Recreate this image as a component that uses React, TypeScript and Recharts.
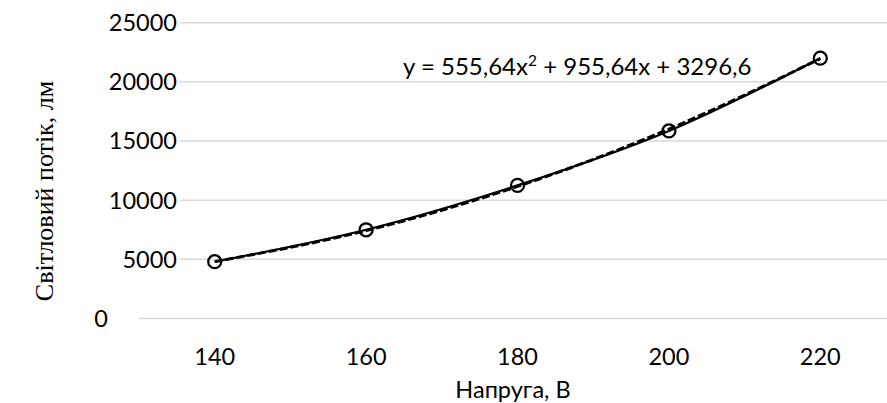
import React from "react";
import { LineChart, Line, XAxis, YAxis, CartesianGrid } from "recharts";

const voltages = ["140", "160", "180", "200", "220"];
const flux = [4800, 7500, 11250, 15850, 22000];
const trend = [4808, 7430, 11164, 16009, 21966];
const yTicks = [0, 5000, 10000, 15000, 20000, 25000];

const data = voltages.map((v, i) => ({ v, flux: flux[i], trend: trend[i] }));

const FONT = "Lato, 'Open Sans', sans-serif";

function YTick({ x, y, payload }: any) {
  const zero = payload.value === 0;
  return (
    <g>
      {!zero && <rect x={x} y={y - 12} width={41} height={24} fill="#fff" />}
      <text
        x={zero ? x - 31 : x + 38}
        y={y}
        dy="0.36em"
        textAnchor="end"
        fontFamily={FONT}
        fontSize={23.5}
        fill="#000"
      >
        {payload.value}
      </text>
    </g>
  );
}

function XTick({ x, y, payload }: any) {
  return (
    <text x={x} y={y + 46} textAnchor="middle" fontFamily={FONT} fontSize={23.5} fill="#000">
      {payload.value}
    </text>
  );
}

export default function App() {
  return (
    <div style={{ position: "absolute", left: 0, top: 0, width: 887, height: 403, overflow: "hidden", background: "#fff" }}>
      <LineChart width={896} height={403} data={data} margin={{ top: 22.7, right: 0, bottom: 0, left: 0 }}>
        <CartesianGrid vertical={false} stroke="#d9d9d9" strokeWidth={1.5} />
        <XAxis
          dataKey="v"
          axisLine={false}
          tickLine={false}
          tickSize={0}
          tickMargin={0}
          height={84.5}
          padding={{ left: 75.7, right: 75.7 }}
          tick={<XTick />}
          interval={0}
        />
        <YAxis
          domain={[0, 25000]}
          ticks={yTicks}
          axisLine={false}
          tickLine={false}
          tickSize={0}
          tickMargin={0}
          width={139}
          tick={<YTick />}
        />
        <Line
          dataKey="trend"
          type="monotone"
          stroke="#000"
          strokeWidth={3}
          strokeDasharray="8 3"
          dot={false}
          isAnimationActive={false}
        />
        <Line
          dataKey="flux"
          type="monotone"
          stroke="#000"
          strokeWidth={2.25}
          dot={{ r: 6.5, stroke: "#000", strokeWidth: 2.25, fill: "none" }}
          activeDot={false}
          isAnimationActive={false}
        />
      </LineChart>
      <svg width={887} height={403} style={{ position: "absolute", left: 0, top: 0, pointerEvents: "none" }}>
        <text x={403} y={75} fontFamily={FONT} fontSize={24} fill="#000">
          y = 555,64x
          <tspan dy={-9} fontSize={15.5}>2</tspan>
          <tspan dy={9}> + 955,64x + 3296,6</tspan>
        </text>
        <text x={513} y={398} textAnchor="middle" fontFamily={FONT} fontSize={23.5} fill="#000">
          Напруга, В
        </text>
        <text
          transform="rotate(-90)"
          x={-191}
          y={53}
          textAnchor="middle"
          fontFamily="'Liberation Serif', 'DejaVu Serif', serif"
          fontSize={26}
          fill="#000"
        >
          Світловий потік, лм
        </text>
      </svg>
    </div>
  );
}
